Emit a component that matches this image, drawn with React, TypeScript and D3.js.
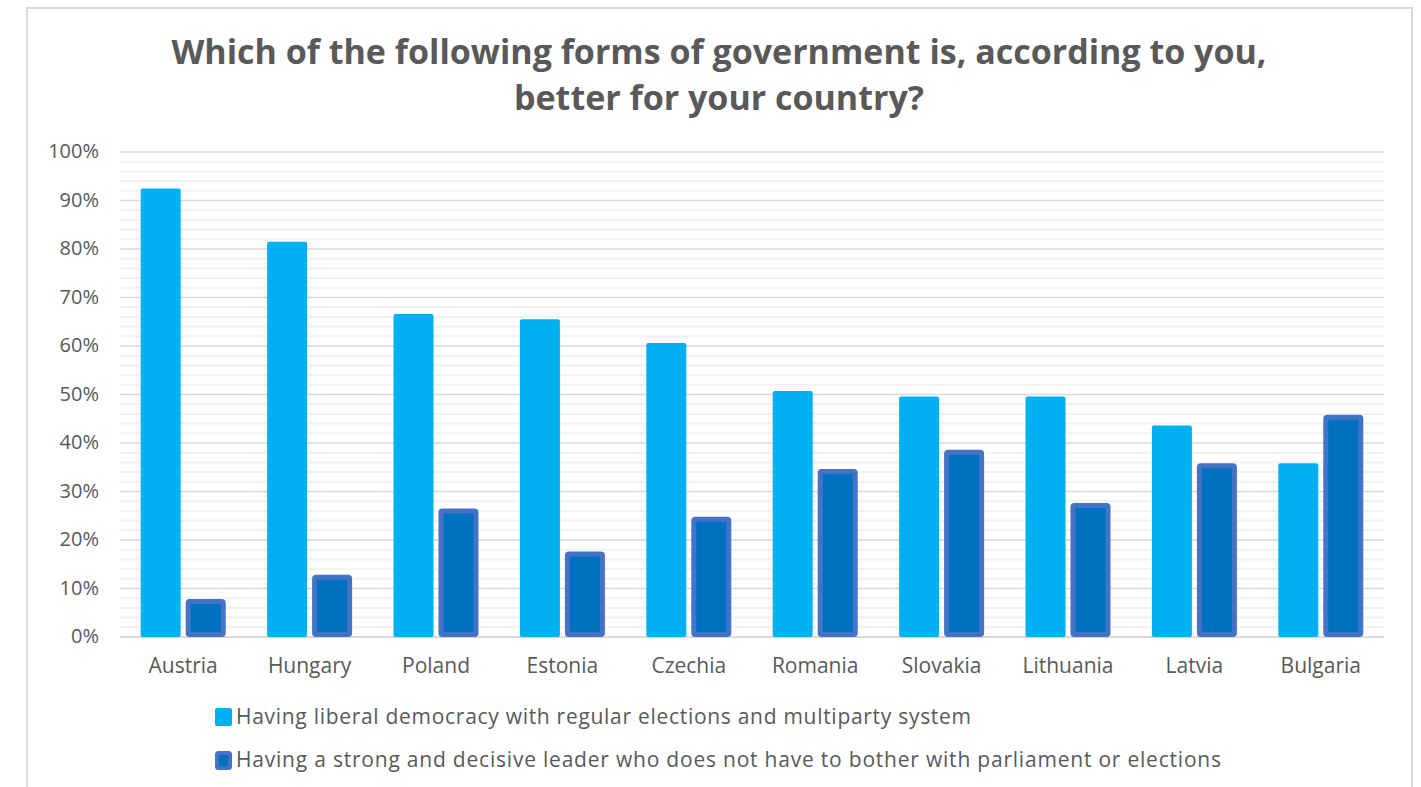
import React from "react";
import * as d3 from "d3";

const countries = ["Austria", "Hungary", "Poland", "Estonia", "Czechia", "Romania", "Slovakia", "Lithuania", "Latvia", "Bulgaria"];
const liberalDemocracy = [92.5, 81.5, 66.6, 65.5, 60.6, 50.7, 49.6, 49.6, 43.6, 35.8];
const strongLeader = [7.3, 12.3, 26.0, 17.1, 24.3, 34.1, 38.1, 27.1, 35.3, 45.3];
const seriesNames = [
  "Having liberal democracy with regular elections and multiparty system",
  "Having a strong and decisive leader who does not have to bother with parliament or elections",
];
const titleLines = ["Which of the following forms of government is, according to you,", "better for your country?"];
const majorTicks = [0, 10, 20, 30, 40, 50, 60, 70, 80, 90, 100];
const minorTicks = d3.range(0, 101, 2).filter((v) => v % 10 !== 0);

const W = 1421;
const H = 787;
const FONT = "'Open Sans', sans-serif";
const TEXT = "#595959";

export default function App() {
  const x = d3.scaleBand<string>().domain(countries).range([120, 1384]).padding(0);
  const y = d3.scaleLinear().domain([0, 100]).range([637, 152]);
  const barW = 40;
  const gap = 5;
  const sw = 5;

  return (
    <svg width={W} height={H} style={{ position: "absolute", left: 0, top: 0, background: "#fff" }} fontFamily={FONT}>
      <rect x={27} y={8} width={1385} height={820} fill="#fff" stroke="#d9d9d9" strokeWidth={2} />
      {titleLines.map((t, i) => (
        <text key={i} x={719} y={64 + i * 46} textAnchor="middle" fontSize={34} fontWeight={700} fill={TEXT}>
          {t}
        </text>
      ))}
      {minorTicks.map((v) => (
        <line key={"m" + v} x1={120} x2={1384} y1={y(v)} y2={y(v)} stroke="#f2f2f2" strokeWidth={2} />
      ))}
      {majorTicks.map((v) => (
        <line key={"M" + v} x1={120} x2={1384} y1={y(v)} y2={y(v)} stroke="#d9d9d9" strokeWidth={v === 0 ? 2 : 1.5} />
      ))}
      {majorTicks.map((v) => (
        <text key={"t" + v} x={99} y={y(v) + 6} textAnchor="end" fontSize={20} fill={TEXT}>
          {v + "%"}
        </text>
      ))}
      {countries.map((c, i) => {
        const cx = (x(c) as number) + x.bandwidth() / 2;
        return (
          <g key={c}>
            <rect x={cx - gap / 2 - barW} y={y(liberalDemocracy[i])} width={barW} height={y(0) - y(liberalDemocracy[i])} fill="#00B0F0" rx={2} />
            <rect
              x={cx + gap / 2 + sw / 2}
              y={y(strongLeader[i])}
              width={barW - sw}
              height={y(0) - y(strongLeader[i]) - sw / 2}
              fill="#0070C0"
              stroke="#4472C4"
              strokeWidth={sw}
              rx={1.5}
            />
            <text x={cx} y={673} textAnchor="middle" fontSize={21} fill={TEXT}>
              {c}
            </text>
          </g>
        );
      })}
      <rect x={215} y={708} width={17} height={18} rx={2} fill="#00B0F0" />
      <text x={236} y={724} fontSize={21} fill={TEXT} textLength={735} lengthAdjust="spacing">
        {seriesNames[0]}
      </text>
      <rect x={217} y={753} width={13} height={15} rx={1.5} fill="#0070C0" stroke="#4472C4" strokeWidth={4} />
      <text x={236} y={767} fontSize={21} fill={TEXT} textLength={985} lengthAdjust="spacing">
        {seriesNames[1]}
      </text>
    </svg>
  );
}
